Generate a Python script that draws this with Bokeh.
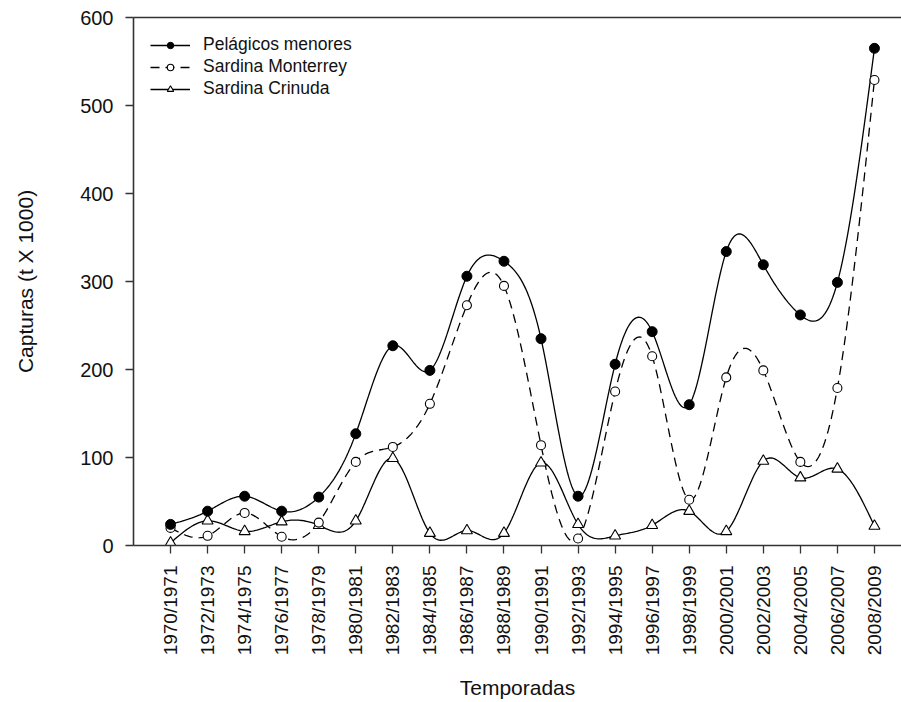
import numpy as np
from bokeh.plotting import figure
from bokeh.models import FixedTicker, LinearAxis, Legend, LegendItem, Range1d
from bokeh.embed import file_html
from bokeh.resources import INLINE

# Fishing seasons and catches (thousand tonnes)
temporadas = ["1970/1971", "1972/1973", "1974/1975", "1976/1977", "1978/1979",
              "1980/1981", "1982/1983", "1984/1985", "1986/1987", "1988/1989",
              "1990/1991", "1992/1993", "1994/1995", "1996/1997", "1998/1999",
              "2000/2001", "2002/2003", "2004/2005", "2006/2007", "2008/2009"]
pelagicos_menores = [24, 39, 56, 39, 55, 127, 227, 199, 306, 323,
                     235, 56, 206, 243, 160, 334, 319, 262, 299, 565]
sardina_monterrey = [20, 11, 37, 10, 26, 95, 112, 161, 273, 295,
                     114, 8, 175, 215, 52, 191, 199, 95, 179, 529]
sardina_crinuda = [3, 28, 16, 27, 23, 28, 99, 14, 17, 14,
                   94, 24, 11, 23, 39, 16, 96, 77, 87, 22]

y_ticks = [0, 100, 200, 300, 400, 500, 600]

FONT = "Liberation Sans"


def natural_spline(x, y, per_seg=24):
    """Smooth path through the points (natural cubic spline)."""
    x = np.asarray(x, float)
    y = np.asarray(y, float)
    n = len(x)
    h = np.diff(x)
    A = np.zeros((n, n))
    b = np.zeros(n)
    A[0, 0] = A[-1, -1] = 1.0
    for i in range(1, n - 1):
        A[i, i - 1] = h[i - 1]
        A[i, i] = 2 * (h[i - 1] + h[i])
        A[i, i + 1] = h[i]
        b[i] = 3 * ((y[i + 1] - y[i]) / h[i] - (y[i] - y[i - 1]) / h[i - 1])
    c = np.linalg.solve(A, b)
    xs, ys = [], []
    for i in range(n - 1):
        bi = (y[i + 1] - y[i]) / h[i] - h[i] * (2 * c[i] + c[i + 1]) / 3
        di = (c[i + 1] - c[i]) / (3 * h[i])
        t = np.linspace(0, h[i], per_seg, endpoint=(i == n - 2))
        xs.extend(x[i] + t)
        ys.extend(y[i] + bi * t + c[i] * t ** 2 + di * t ** 3)
    return list(xs), list(ys)


idx = list(range(len(temporadas)))

p = figure(width=901, height=702, output_backend="svg", toolbar_location=None,
           x_range=Range1d(-1.0, 19.73), y_range=Range1d(0, 600),
           min_border_left=133, min_border_right=0, min_border_top=17,
           min_border_bottom=155, background_fill_color="white",
           border_fill_color="white", outline_line_color=None)
p.xgrid.visible = False
p.ygrid.visible = False

# smooth curves
sx, sy = natural_spline(idx, pelagicos_menores)
l1 = p.line(sx, sy, line_color="black", line_width=1.3)
sx, sy = natural_spline(idx, sardina_monterrey)
l2 = p.line(sx, sy, line_color="black", line_width=1.3, line_dash="9 6")
sx, sy = natural_spline(idx, sardina_crinuda)
l3 = p.line(sx, sy, line_color="black", line_width=1.3)

# markers
m3 = p.scatter(idx, sardina_crinuda, marker="triangle", size=11,
               fill_color="white", line_color="black", line_width=1.1)
m2 = p.scatter(idx, sardina_monterrey, marker="circle", size=9,
               fill_color="white", line_color="black", line_width=1.1)
m1 = p.scatter(idx, pelagicos_menores, marker="circle", size=10,
               fill_color="black", line_color="black")

# axes
xa = p.xaxis[0]
xa.ticker = FixedTicker(ticks=idx)
xa.major_label_overrides = {i: t for i, t in zip(idx, temporadas)}
xa.major_label_orientation = np.pi / 2
xa.axis_label = "Temporadas"
xa.minor_tick_line_color = None

ya = p.yaxis[0]
ya.ticker = FixedTicker(ticks=y_ticks)
ya.axis_label = "Capturas (t X 1000)"
ya.minor_tick_line_color = None

for ax in (xa, ya):
    ax.axis_line_color = "#333333"
    ax.axis_line_width = 1.6
    ax.major_tick_line_color = "#333333"
    ax.major_tick_line_width = 1.3
    ax.major_tick_out = 8
    ax.major_tick_in = 0
    ax.major_label_text_font = FONT
    ax.major_label_text_color = "#111111"
    ax.axis_label_text_font = FONT
    ax.axis_label_text_font_size = "21px"
    ax.axis_label_text_font_style = "normal"
    ax.axis_label_text_color = "#111111"
xa.major_label_text_font_size = "19px"
ya.major_label_text_font_size = "20px"
xa.major_label_standoff = 12
xa.axis_label_standoff = 18
ya.major_label_standoff = 12
ya.axis_label_standoff = 40

# top border line
top = LinearAxis(ticker=FixedTicker(ticks=[]), axis_line_color="#333333",
                 axis_line_width=1.6, major_tick_line_color=None,
                 minor_tick_line_color=None, major_label_text_font_size="0px")
p.add_layout(top, "above")

legend = Legend(items=[
    LegendItem(label="Pelágicos menores", renderers=[l1, m1]),
    LegendItem(label="Sardina Monterrey", renderers=[l2, m2]),
    LegendItem(label="Sardina Crinuda", renderers=[l3, m3]),
], location="top_left")
legend.margin = 17
legend.padding = 0
legend.spacing = 1
legend.glyph_width = 40
legend.glyph_height = 16
legend.label_height = 16
legend.label_standoff = 13
legend.label_text_font = FONT
legend.label_text_font_size = "17.5px"
legend.label_text_color = "#111111"
legend.border_line_color = None
legend.background_fill_alpha = 0
p.add_layout(legend)

open("out.html", "w").write(file_html(p, INLINE))
